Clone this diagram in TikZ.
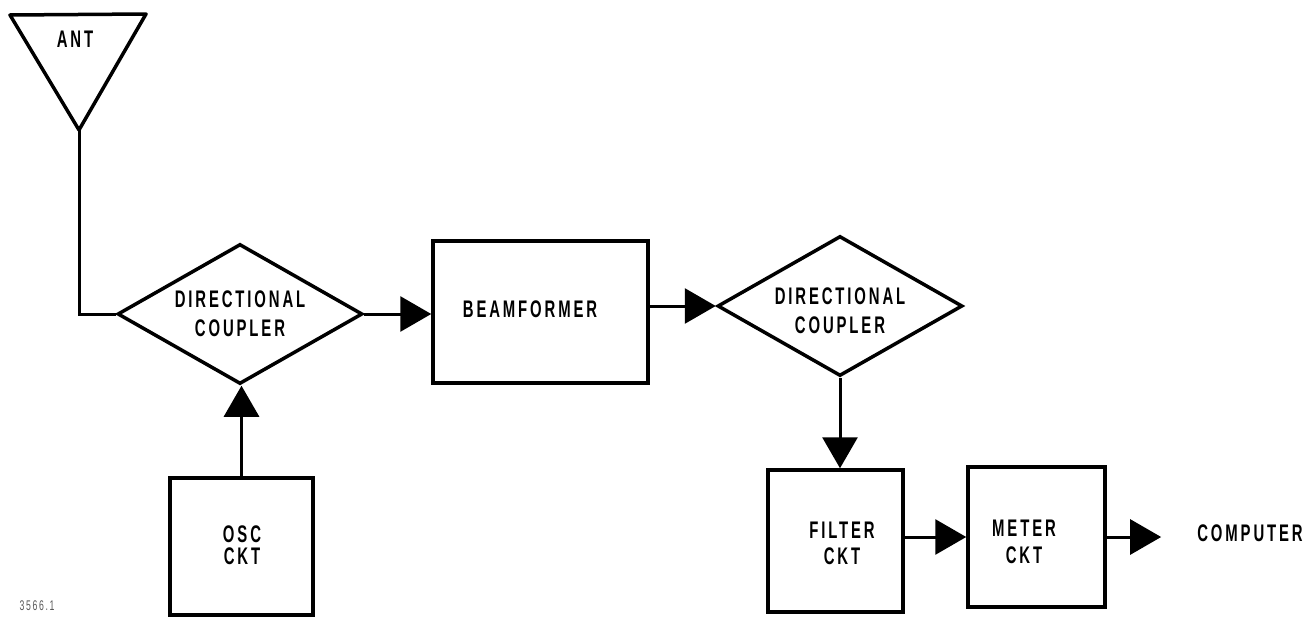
\documentclass[tikz,border=0pt]{standalone}
\usepackage{fontspec}
\setmainfont{Liberation Sans}[FakeStretch=0.62, LetterSpace=12]
\usetikzlibrary{arrows.meta,shapes.geometric}
\begin{document}
\begin{tikzpicture}[x=1pt,y=-1pt,
  box/.style={draw, line width=3.5pt, inner sep=0pt, line join=miter},
  dia/.style={draw, diamond, line width=3.5pt, inner sep=0pt, minimum width=245pt, minimum height=140pt},
  lbl/.style={font=\bfseries\fontsize{24}{29}\selectfont, align=center, inner sep=0pt},
  conn/.style={line width=3pt},
  arr/.style={conn, -{Triangle[length=31pt,width=35pt]}}
]
\useasboundingbox (0,0) rectangle (1307,621);

% antenna
\draw[line width=3.5pt, line join=round] (10,15) -- (146,14) -- (79,130) -- cycle;
\coordinate (ant) at (79,130);
\node[lbl] (antlbl) at (75,39) {ANT};

% directional couplers
\node[dia] (dc1) at (240,314) {};
\node[lbl] at (240,314) {DIRECTIONAL\\COUPLER};
\node[dia] (dc2) at (840,306) {};
\node[lbl] at (840,311) {DIRECTIONAL\\COUPLER};

% boxes
\node[box, minimum width=215pt, minimum height=142pt] (bf) at (540.5,312) {};
\node[lbl] at (530,309) {BEAMFORMER};

\node[box, minimum width=143pt, minimum height=137pt] (osc) at (241.5,546.5) {};
\node[lbl, font=\bfseries\fontsize{24}{22}\selectfont] at (242,545) {OSC\\CKT};

\node[box, minimum width=135pt, minimum height=142pt] (filt) at (835.5,541) {};
\node[lbl, font=\bfseries\fontsize{24}{26}\selectfont] at (842,543) {FILTER\\CKT};

\node[box, minimum width=137pt, minimum height=140pt] (met) at (1036.5,537) {};
\node[lbl, font=\bfseries\fontsize{24}{27}\selectfont] at (1024,542) {METER\\CKT};

\node[lbl] (comp) at (1250,533) {COMPUTER};

% connectors
\draw[conn] (ant) |- (dc1.west);
\draw[arr] (dc1.east) -- (dc1.east -| bf.west);
\draw[arr] (bf.east |- dc2.west) -- (dc2.west);
\draw[arr] (osc.north) -- (osc.north |- dc1.south);
\draw[arr] (dc2.south) -- (dc2.south |- filt.north);
\draw[arr] (filt.east |- met.west) -- (met.west);
\draw[arr, shorten >=36pt] (met.east) -- (met.east -| comp.west);

% drawing number
\node[font=\fontsize{14}{16}\selectfont, text=black!65, inner sep=0pt] (num) at (37,606) {3566.1};
\end{tikzpicture}
\end{document}
